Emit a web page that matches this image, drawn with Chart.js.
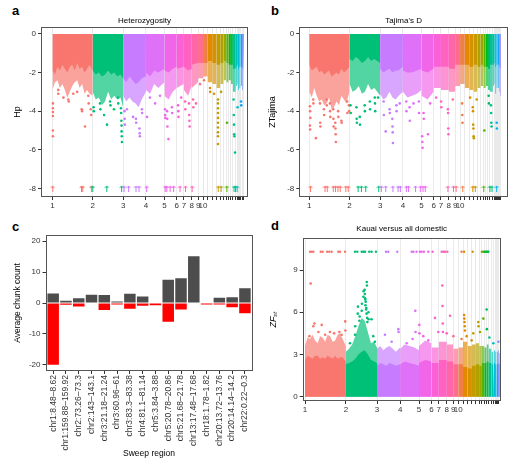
<!DOCTYPE html>
<html>
<head>
<meta charset="utf-8">
<script src="https://cdn.jsdelivr.net/npm/chart.js@4.4.1/dist/chart.umd.min.js"></script>
<style>
  html, body { margin:0; padding:0; background:#fff; }
  body { width:521px; height:461px; position:relative; overflow:hidden; font-family:"Liberation Sans", Arial, sans-serif; }
  canvas { position:absolute; }
  .lt { position:absolute; font-weight:bold; font-size:13px; line-height:13px; color:#000; }
</style>
</head>
<body>
<div class="lt" style="left:12px;top:4px">a</div>
<div class="lt" style="left:271px;top:4px">b</div>
<div class="lt" style="left:12px;top:220px">c</div>
<div class="lt" style="left:271px;top:219px">d</div>
<canvas id="ca" width="258" height="215" style="left:0;top:0"></canvas>
<canvas id="cb" width="263" height="215" style="left:258px;top:0"></canvas>
<canvas id="cc" width="258" height="246" style="left:0;top:215px"></canvas>
<canvas id="cd" width="263" height="205" style="left:258px;top:215px"></canvas>
<script>
// ---------------- DATA ----------------
const chromNames   = ['1','2','3','4','5','6','7','8','9','10','11','12','13','14','15','16','17','18','19','20','21','22','23','24','25','26','27','28'];
const chromLengths = [195.3,148.8,110.4,90.2,59.6,34.9,38.4,30.7,24.1,22.6,21.9,20.5,18.9,15.8,13.0,0.4,11.2,10.9,9.9,14.0,7.0,3.9,6.0,6.4,2.0,5.1,4.8,4.5];
const chromTickLabels = ['1','2','3','4','5','6','7','8','9','10','','','','','','','','','','','','','','','','','',''];

// Panel a: heterozygosity (Hp). Band rows: [chromosome, position in chromosome (Mb), dense edge, sparse edge]
const hpBand = [
 [1,0,-1.9,-2.9],[1,12,-2.1,-2.5],[1,24,-1.7,-2.4],[1,36,-1.9,-2.8],[1,48,-1.6,-2.6],[1,60,-1.8,-2.9],[1,72,-2.0,-3.3],[1,84,-1.7,-3.0],[1,96,-1.6,-2.7],[1,108,-1.9,-2.5],[1,120,-1.5,-2.4],[1,132,-1.8,-2.8],[1,144,-1.7,-2.6],[1,156,-2.0,-3.1],[1,168,-1.8,-2.9],[1,180,-1.6,-3.1],[1,195,-1.9,-3.2],
 [2,0,-1.9,-3.0],[2,15,-2.1,-3.4],[2,30,-2.0,-3.3],[2,45,-2.2,-3.7],[2,60,-2.1,-3.5],[2,75,-1.9,-3.0],[2,90,-2.1,-3.4],[2,105,-2.0,-3.2],[2,120,-2.2,-3.4],[2,135,-2.1,-3.3],[2,148,-2.3,-3.8],
 [3,0,-2.3,-3.2],[3,15,-2.5,-3.5],[3,30,-2.2,-3.3],[3,45,-2.4,-3.5],[3,60,-2.6,-3.6],[3,75,-2.5,-3.8],[3,90,-2.3,-3.4],[3,110,-2.2,-3.0],
 [4,0,-2.0,-2.9],[4,20,-2.2,-3.1],[4,40,-1.9,-2.6],[4,60,-2.0,-2.8],[4,90,-1.8,-2.5],
 [5,0,-1.9,-3.2],[5,20,-2.0,-3.4],[5,40,-1.8,-3.0],[5,59,-1.7,-2.8],
 [6,0,-1.8,-2.8],[6,34,-1.7,-2.6],[7,0,-1.7,-2.9],[7,20,-1.9,-3.2],[7,38,-1.8,-2.7],[8,0,-1.6,-2.8],[8,30,-1.5,-2.5],
 [9,0,-1.5,-2.3],[10,0,-1.5,-2.2],[11,0,-1.4,-2.5],[12,0,-1.5,-2.6],[13,0,-1.6,-2.8],[14,0,-1.5,-2.6],[15,0,-1.4,-2.4],
 [16,0,-1.4,-2.2],[17,0,-1.5,-2.5],[18,0,-1.6,-2.4],[19,0,-1.6,-2.6],[20,0,-1.8,-3.0],[21,0,-1.7,-2.7],[22,0,-1.6,-2.6],
 [23,0,-1.8,-2.9],[24,0,-1.7,-2.8],[25,0,-1.6,-2.5],[26,0,-1.7,-2.7],[27,0,-1.8,-2.9],[28,0,-1.9,-3.0]
];
// Outlying windows: [genome position (Mb), value]
const hpPoints = [
 [2,-3.6],[2,-3.85],[2,-4.05],[2,-4.25],[2,-5.0],[2,-5.3],[28,-2.9],[28,-3.1],[53,-3.3],[77,-3.4],[79,-3.5],[101,-3.1],[120,-3.0],
 [142,-3.9],[144,-4.0],[158,-4.8],[174,-3.2],[176,-3.6],[186,-3.9],[188,-4.2],
 [200,-3.8],[201,-4.0],[231,-3.6],[233,-3.9],[251,-4.2],[265,-4.7],[280,-3.5],[282,-3.7],[299,-3.9],[319,-3.3],[320,-3.6],
 [333,-3.85],[334,-4.1],[335,-4.5],[336,-4.75],[336,-5.05],[337,-5.3],[338,-5.6],
 [350,-4.0],[351,-4.4],[352,-4.7],[362,-3.9],[392,-4.3],[406,-4.4],[407,-4.6],[423,-4.9],[424,-5.15],[425,-5.3],[435,-3.9],[436,-4.1],
 [460,-4.3],[474,-3.3],[499,-3.6],[523,-3.2],
 [547,-3.9],[548,-4.2],[549,-4.35],[557,-4.0],[558,-4.4],[559,-4.8],[564,-5.45],[581,-3.8],[582,-4.1],
 [611,-3.7],[612,-4.0],[613,-4.3],[626,-3.3],[645,-3.5],[646,-3.9],[664,-3.6],[665,-4.2],[666,-4.5],[667,-4.8],
 [684,-3.4],[685,-3.8],[698,-3.6],[718,-2.6],[737,-2.4],[766,-2.8],[767,-3.0],[786,-3.1],
 [805,-3.4],[805,-3.6],[805,-3.85],[805,-4.1],[805,-4.35],[805,-4.6],[805,-4.85],[805,-5.1],[805,-5.3],[805,-5.7],
 [820,-3.0],[849,-4.6],[881,-3.4],[882,-4.2],[883,-4.7],[884,-5.2],[885,-5.3],[888,-6.15],[900,-3.8],[917,-3.5],[918,-3.7]
];
// Windows beyond the axis limit, shown as arrows at -8: genome positions (Mb)
const hpTruncated = [1,141,147,189,196,264,336,348,370,406,421,458,548,556,572,589,620,647,679,806,820,848,883,890,898];
const hpTruncLevel = -8;
const hpTicks = [-8,-6,-4,-2,0];

// Panel b: Tajima's D
const tajBand = [
 [1,0,-1.6,-3.0],[1,12,-1.9,-3.3],[1,24,-1.8,-2.8],[1,36,-1.7,-3.2],[1,48,-2.0,-3.5],[1,60,-1.9,-3.4],[1,72,-2.1,-3.7],[1,84,-2.0,-3.6],[1,96,-1.9,-3.3],[1,108,-2.2,-3.9],[1,120,-2.1,-3.8],[1,132,-2.0,-3.5],[1,144,-2.1,-3.7],[1,156,-1.8,-3.2],[1,168,-2.0,-3.4],[1,180,-1.9,-3.6],[1,195,-1.7,-3.0],
 [2,0,-1.3,-2.6],[2,15,-1.4,-3.0],[2,30,-1.2,-2.9],[2,45,-1.3,-2.7],[2,60,-1.5,-3.1],[2,75,-1.4,-3.0],[2,90,-1.2,-2.6],[2,105,-1.4,-2.9],[2,120,-1.3,-2.8],[2,135,-1.4,-3.0],[2,148,-1.5,-3.2],
 [3,0,-1.8,-3.1],[3,15,-2.0,-3.4],[3,30,-1.9,-3.3],[3,45,-1.8,-3.0],[3,60,-2.0,-3.3],[3,75,-1.9,-3.4],[3,90,-1.9,-3.2],[3,110,-1.7,-3.0],
 [4,0,-1.9,-3.0],[4,22,-2.0,-3.3],[4,45,-2.0,-3.2],[4,68,-1.9,-3.1],[4,90,-1.8,-2.9],[5,0,-1.9,-3.2],[5,30,-2.0,-3.4],[5,59,-1.8,-3.0],
 [6,0,-1.7,-2.8],[7,0,-1.7,-2.9],[8,0,-1.8,-3.0],[9,0,-1.6,-2.7],[10,0,-1.6,-2.6],
 [11,0,-1.6,-2.8],[12,0,-1.7,-2.9],[13,0,-1.6,-3.0],[14,0,-1.7,-2.8],[15,0,-1.6,-2.7],[16,0,-1.6,-2.6],[17,0,-1.7,-2.8],
 [18,0,-1.7,-2.7],[19,0,-1.8,-2.9],[20,0,-1.6,-3.0],[21,0,-1.6,-2.7],[22,0,-1.5,-2.6],[23,0,-1.7,-3.1],[24,0,-1.6,-2.8],
 [25,0,-1.5,-2.6],[26,0,-1.6,-2.8],[27,0,-1.7,-3.0],[28,0,-1.8,-3.2]
];
const tajPoints = [
 [3,-3.75],[4,-4.0],[5,-4.35],[3,-4.75],[4,-4.95],[19,-3.4],[20,-3.6],[32,-5.4],[52,-3.6],[53,-4.6],[54,-4.8],[71,-3.9],[72,-4.2],
 [84,-3.4],[85,-3.7],[100,-3.6],[101,-4.0],[102,-4.3],[116,-3.9],[117,-4.4],[118,-4.8],[126,-4.6],[127,-4.9],[128,-5.2],[129,-5.6],
 [140,-4.0],[141,-4.3],[156,-4.5],[157,-4.6],[184,-3.5],[185,-4.1],[192,-3.7],[193,-4.0],
 [200,-3.7],[201,-4.1],[229,-3.8],[230,-4.4],[231,-4.6],[245,-4.3],[246,-4.7],[269,-3.7],[270,-4.0],[294,-3.5],[295,-3.9],
 [318,-3.3],[319,-3.6],[320,-4.0],[334,-3.3],
 [361,-3.5],[362,-4.2],[371,-5.05],[390,-3.9],[391,-4.1],[403,-4.4],[404,-4.8],[405,-5.1],[406,-5.65],[423,-3.7],[424,-4.0],[439,-3.6],
 [471,-3.5],[472,-4.0],[487,-3.8],[488,-4.5],[506,-3.6],[532,-3.5],[533,-4.1],
 [548,-5.3],[549,-5.6],[550,-5.9],[555,-4.1],[556,-4.4],[576,-5.2],[587,-3.6],
 [616,-3.3],[640,-3.5],[641,-3.8],[673,-3.9],[674,-4.1],[675,-4.9],[676,-5.2],[697,-3.4],
 [742,-3.6],[743,-4.2],[744,-4.6],[781,-3.3],[794,-3.8],[795,-4.0],[796,-4.7],[797,-4.9],[798,-5.3],[799,-5.4],[813,-3.4],
 [850,-5.0],[871,-3.2],[872,-3.6],[882,-3.7],[883,-4.1],[884,-4.6],[885,-4.8],[910,-4.6],[911,-4.9]
];
const tajTruncated = [6,76,87,116,127,139,150,177,189,237,253,274,337,350,371,406,431,442,471,482,516,539,552,563,673,700,713,745,794,806,847,877,887,910];
const tajTruncLevel = -8;
const tajTicks = [-8,-6,-4,-2,0];

// Panel c: average chunk count per sweep region
const sweepRegions = ['chr1:8.48–8.62','chr1:159.88–159.92','chr2:73.26–73.3','chr2:143–143.1','chr3:21.18–21.24','chr3:60.96–61','chr3:83.3–83.38','chr4:81.1–81.14','chr5:3.84–3.88','chr5:20.78–20.86','chr5:21.68–21.78','chr13:17.48–17.68','chr18:1.78–1.82','chr20:13.72–13.76','chr20:14.14–14.2','chr22:0.22–0.3'];
const chunkGrey = [3.1,0.7,1.5,2.7,2.6,0.5,3.0,2.1,0,7.5,8.0,15.1,0,1.7,1.9,4.8];
const chunkRed  = [-20.0,-0.55,-1.1,-0.15,-2.3,-0.45,-1.9,-0.9,-0.75,-6.1,-2.1,0,-0.45,-0.45,-1.35,-3.3];
const chunkTicks = [-20,-10,0,10,20];

// Panel d: ZFst Kauai versus all domestic
const fstBand = [
 [1,0,2.6,3.6],[1,12,2.9,4.2],[1,24,2.8,4.1],[1,36,2.7,4.4],[1,48,2.9,4.0],[1,60,2.9,3.8],[1,72,2.7,4.3],[1,84,2.8,4.2],[1,96,2.7,3.9],[1,108,2.9,4.4],[1,120,2.8,4.3],[1,132,2.7,3.9],[1,144,2.9,4.0],[1,156,2.7,4.4],[1,168,2.8,4.5],[1,180,2.8,4.1],[1,195,2.5,3.6],
 [2,0,2.3,3.2],[2,15,2.4,3.4],[2,30,2.5,3.7],[2,45,2.7,4.3],[2,60,3.0,5.0],[2,75,3.2,5.6],[2,90,3.3,5.4],[2,105,3.0,4.6],[2,120,2.6,3.8],[2,135,2.5,3.9],[2,148,2.4,3.5],
 [3,0,2.2,3.4],[3,15,2.4,3.6],[3,30,2.3,3.3],[3,45,2.2,3.5],[3,60,2.4,3.6],[3,75,2.3,3.4],[3,90,2.2,3.2],[3,110,2.3,3.5],
 [4,0,2.3,3.4],[4,22,2.5,3.7],[4,45,2.4,3.6],[4,68,2.3,3.5],[4,90,2.2,3.3],[5,0,2.4,3.6],[5,30,2.6,4.0],[5,59,2.5,3.8],
 [6,0,2.4,3.5],[7,0,2.6,3.9],[8,0,2.5,3.7],[9,0,2.3,3.4],[10,0,2.3,3.5],
 [11,0,2.1,3.9],[12,0,2.0,3.6],[13,0,2.2,3.7],[14,0,2.3,3.8],[15,0,2.2,3.6],[16,0,2.2,3.4],[17,0,2.4,3.6],
 [18,0,2.4,3.5],[19,0,2.5,3.7],[20,0,2.4,3.4],[21,0,2.3,3.2],[22,0,2.3,3.1],[23,0,2.4,3.3],[24,0,2.3,3.2],
 [25,0,2.2,3.0],[26,0,2.3,3.2],[27,0,2.4,3.3],[28,0,2.3,3.1]
];
const fstPoints = [
 [27,8.05],[21,4.3],[40,5.0],[45,5.2],[64,4.6],[80,5.1],[96,4.4],[119,4.6],[139,4.5],[164,4.6],[175,4.4],[192,5.35],[193,4.7],
 [215,3.8],[239,4.4],[240,5.0],[252,5.9],[253,6.4],[260,5.4],[261,5.7],[271,6.1],[272,6.6],[279,7.1],[280,7.5],[285,7.6],
 [286,7.3],[287,7.0],[288,6.9],[289,6.5],[290,6.75],[292,6.2],[293,6.3],[294,5.9],[295,8.15],[296,7.9],[297,5.6],[298,5.3],
 [303,6.0],[304,5.5],[318,5.5],[326,4.3],[334,3.9],
 [382,4.4],[414,3.9],[446,4.8],[447,4.6],[486,3.8],[514,4.1],[527,6.1],[528,4.6],[546,5.1],[547,4.5],[565,4.3],[589,4.0],
 [621,5.6],[637,4.6],[656,7.9],[657,6.45],[658,5.2],[659,4.6],[677,4.5],[693,5.75],[709,4.3],
 [748,4.1],[760,5.8],[761,5.55],[762,5.3],[763,5.0],[764,4.7],[772,4.3],[796,4.0],[804,4.5],[828,5.3],[829,5.0],[836,4.6],
 [852,5.55],[868,6.2],[869,4.8],[881,4.2],[900,3.8],[924,3.9]
];
const fstTruncated = [24,32,40,75,84,106,116,127,159,167,191,239,250,271,279,287,307,318,339,387,398,441,510,518,533,549,557,568,589,610,653,661,669,680,748,760,801,845,852,860,866,872,876];
const fstTruncLevel = 10.3;
const fstTicks = [0,3,6,9];

// ---------------- HELPERS ----------------
Chart.defaults.font.family = '"Liberation Sans", Arial, Helvetica, sans-serif';
Chart.defaults.animation = false;

const chromStarts = [];
{ let acc = 0; for (const L of chromLengths) { chromStarts.push(acc); acc += L; } }

function hcl(h, c, l) {
  const hr = h * Math.PI / 180, u = c * Math.cos(hr), v = c * Math.sin(hr);
  const Xn = 95.047, Yn = 100, Zn = 108.883;
  const den = Xn + 15 * Yn + 3 * Zn, un = 4 * Xn / den, vn = 9 * Yn / den;
  const Y = l > 8 ? Yn * Math.pow((l + 16) / 116, 3) : Yn * l / 903.3;
  const up = u / (13 * l) + un, vp = v / (13 * l) + vn;
  const X = Y * 9 * up / (4 * vp), Z = Y * (12 - 3 * up - 20 * vp) / (4 * vp);
  const x = X / 100, y = Y / 100, z = Z / 100;
  const r = 3.2404542 * x - 1.5371385 * y - 0.4985314 * z;
  const g = -0.9692660 * x + 1.8760108 * y + 0.0415560 * z;
  const b = 0.0556434 * x - 0.2040259 * y + 1.0572252 * z;
  const gm = t => { t = t <= 0.0031308 ? 12.92 * t : 1.055 * Math.pow(t, 1 / 2.4) - 0.055; return Math.round(Math.max(0, Math.min(1, t)) * 255); };
  return [gm(r), gm(g), gm(b)];
}
// ggplot-like hue palette applied to chromosome names in alphabetical order
const sortedNames = chromNames.slice().sort();
const chromRGB = chromNames.map(n => hcl(15 + 360 * sortedNames.indexOf(n) / chromNames.length, 100, 65));
const rgba = (c, a) => `rgba(${c[0]},${c[1]},${c[2]},${a})`;
function chromAt(pos) { for (let k = chromStarts.length - 1; k >= 0; k--) if (pos >= chromStarts[k]) return k; return 0; }

function arrowImage(col) {
  const c = document.createElement('canvas'); c.width = 5; c.height = 7;
  const g = c.getContext('2d'); g.strokeStyle = col; g.lineWidth = 1;
  g.beginPath(); g.moveTo(2.5, 1); g.lineTo(2.5, 7); g.moveTo(0.6, 3.1); g.lineTo(2.5, 1); g.lineTo(4.4, 3.1); g.stroke();
  return c;
}
const arrowImgs = chromRGB.map(c => arrowImage(rgba(c, 1)));

const boxPlugin = {
  id: 'box',
  afterDatasetsDraw(chart) {
    const { ctx, chartArea: a } = chart;
    ctx.save(); ctx.strokeStyle = '#555'; ctx.lineWidth = 1;
    ctx.strokeRect(Math.round(a.left) + 0.5, Math.round(a.top) + 0.5, Math.round(a.right - a.left) - 1, Math.round(a.bottom - a.top) - 1);
    ctx.restore();
  }
};

function bandSets(band, col, alpha, order) {
  const sets = [];
  for (let k = 0; k < chromNames.length; k++) {
    const rows = band.filter(r => r[0] === k + 1).sort((a, b) => a[1] - b[1]);
    if (!rows.length) continue;
    const s = chromStarts[k], L = chromLengths[k];
    const pts = rows.map(r => ({ x: s + Math.min(r[1], L), y: r[col] }));
    if (rows[0][1] > 0) pts.unshift({ x: s, y: rows[0][col] });
    if (rows[rows.length - 1][1] < L) pts.push({ x: s + L, y: rows[rows.length - 1][col] });
    sets.push({ data: pts, showLine: true, fill: 'origin', tension: 0, pointRadius: 0, borderWidth: 1e-6,
      borderColor: 'rgba(0,0,0,0)', backgroundColor: rgba(chromRGB[k], alpha), order });
  }
  return sets;
}

function manhattan(id, o) {
  const datasets = [
    { data: o.points.map(p => ({ x: p[0], y: p[1] })), showLine: false, pointRadius: 1.3, pointBorderWidth: 0,
      pointBackgroundColor: o.points.map(p => rgba(chromRGB[chromAt(p[0])], 1)), order: 0 },
    { data: o.trunc.map(p => ({ x: p, y: o.truncLevel })), showLine: false, pointRadius: o.arrow ? 2 : 1.2, pointBorderWidth: 0,
      pointStyle: o.arrow ? o.trunc.map(p => arrowImgs[chromAt(p)]) : 'circle',
      pointBackgroundColor: o.trunc.map(p => rgba(chromRGB[chromAt(p)], 1)), order: 1 },
    ...bandSets(o.band, 2, 1, 2),
    ...bandSets(o.band, 3, 0.68, 3)
  ];
  return new Chart(document.getElementById(id), {
    type: 'line',
    data: { datasets },
    options: {
      responsive: false, animation: false, events: [],
      layout: { padding: o.pad },
      plugins: {
        legend: { display: false }, tooltip: { enabled: false },
        title: { display: true, text: o.title, fullSize: false, color: '#000', font: { size: 8, weight: 'normal' }, padding: { top: 0, bottom: o.titlePadB } }
      },
      scales: {
        x: {
          type: 'linear', min: o.xMin, max: o.xMax,
          afterBuildTicks: s => { s.ticks = chromStarts.map(v => ({ value: v })); },
          ticks: { autoSkip: false, maxRotation: 0, minRotation: 0, padding: 1, color: '#333', font: { size: 8 }, callback: (v, i) => chromTickLabels[i] },
          grid: { color: '#EAEAEA', lineWidth: 1, tickColor: '#333', tickLength: 3 },
          border: { display: false },
          afterFit: s => { s.height = o.xH; }
        },
        y: {
          min: o.yMin, max: o.yMax,
          afterBuildTicks: s => { s.ticks = o.yTicks.map(v => ({ value: v })); },
          ticks: { padding: 2, color: '#333', font: { size: 8 } },
          grid: { drawOnChartArea: false, tickColor: '#333', tickLength: 3 },
          border: { display: false },
          title: { display: true, text: o.yTitle, color: '#000', padding: 0, font: { size: 9, style: o.yItalic ? 'italic' : 'normal' } },
          afterFit: s => { s.width = o.yW; }
        }
      }
    },
    plugins: [boxPlugin]
  });
}

// ---------------- CHARTS ----------------
manhattan('ca', { band: hpBand, points: hpPoints, trunc: hpTruncated, truncLevel: hpTruncLevel, arrow: true,
  title: 'Heterozygosity', yTitle: 'Hp', yTicks: hpTicks, yMin: -8.45, yMax: 0.36, xMin: -56, xMax: 951,
  pad: { left: 12.6, right: 10, top: 15.6, bottom: 0 }, yW: 28.4, xH: 18, titlePadB: 1.8 });

manhattan('cb', { band: tajBand, points: tajPoints, trunc: tajTruncated, truncLevel: tajTruncLevel, arrow: true,
  title: "Tajima's D", yTitle: 'ZTajima', yTicks: tajTicks, yMin: -8.45, yMax: 0.36, xMin: -48.6, xMax: 965,
  pad: { left: 9.6, right: 13, top: 15.6, bottom: 0 }, yW: 31.7, xH: 18, titlePadB: 1.8 });

manhattan('cd', { band: fstBand, points: fstPoints, trunc: fstTruncated, truncLevel: fstTruncLevel, arrow: false,
  title: 'Kauai versus all domestic', yTitle: 'ZFₛₜ', yItalic: true, yTicks: fstTicks, yMin: -0.31, yMax: 11.28, xMin: -11, xMax: 935,
  pad: { left: 9.6, right: 20.3, top: 8.5, bottom: 0 }, yW: 35.1, xH: 19, titlePadB: 4.9 });

new Chart(document.getElementById('cc'), {
  type: 'bar',
  data: { datasets: [
    { data: chunkGrey.map((v, i) => ({ x: i + 1, y: v })), backgroundColor: '#4D4D4D', borderWidth: 0, grouped: false, categoryPercentage: 1, barPercentage: 0.9 },
    { data: chunkRed.map((v, i) => ({ x: i + 1, y: v })), backgroundColor: '#FF0000', borderWidth: 0, grouped: false, categoryPercentage: 1, barPercentage: 0.9 }
  ] },
  options: {
    responsive: false, animation: false, events: [],
    layout: { padding: { left: 12.6, right: 5.4, top: 20, bottom: 0 } },
    plugins: { legend: { display: false }, tooltip: { enabled: false } },
    scales: {
      x: {
        type: 'linear', min: 0.4, max: 16.6, offset: false,
        afterBuildTicks: s => { s.ticks = sweepRegions.map((_, i) => ({ value: i + 1 })); },
        ticks: { autoSkip: false, minRotation: 90, maxRotation: 90, padding: 1, color: '#333', font: { size: 8.5 }, callback: (v, i) => sweepRegions[i] },
        grid: { drawOnChartArea: false, offset: false, tickColor: '#333', tickLength: 3 },
        border: { display: false },
        title: { display: true, text: 'Sweep region', color: '#000', font: { size: 8.5 }, padding: { top: 0, bottom: 1.9 } },
        afterFit: s => { s.height = 90; }
      },
      y: {
        min: -22, max: 22,
        afterBuildTicks: s => { s.ticks = chunkTicks.map(v => ({ value: v })); },
        ticks: { padding: 2, color: '#333', font: { size: 8 } },
        grid: { drawOnChartArea: false, tickColor: '#333', tickLength: 3 },
        border: { display: false },
        title: { display: true, text: 'Average chunk count', color: '#000', padding: 0, font: { size: 8.5 } },
        afterFit: s => { s.width = 32.9; }
      }
    }
  },
  plugins: [boxPlugin]
});
</script>
</body>
</html>
